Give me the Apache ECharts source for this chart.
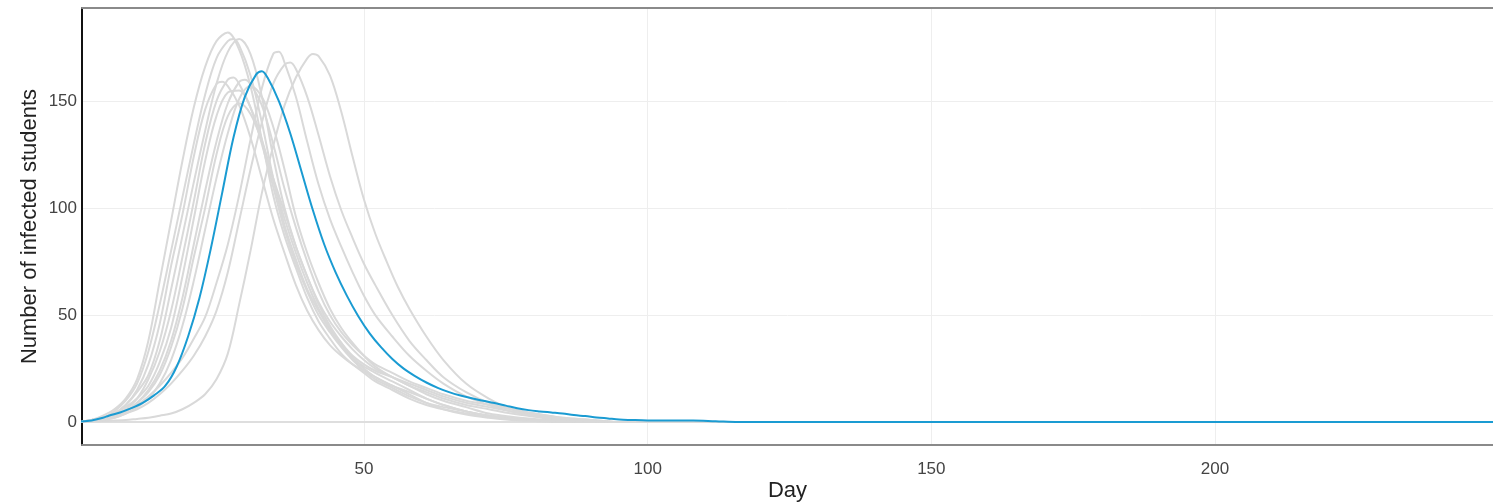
<!DOCTYPE html>
<html><head><meta charset="utf-8">
<script src="https://cdn.jsdelivr.net/npm/echarts@6.0.0/dist/echarts.min.js"></script>
<style>html,body{margin:0;padding:0;background:#fff}#c{width:1493px;height:503px}</style>
</head><body><div id="c"></div>
<script>
// tick labels
const xTickLabels = [50, 100, 150, 200];
const yTickLabels = [0, 50, 100, 150];

// simulation runs: [day, infected students]
const runA = [[0,0],[2,1],[4,3],[6,6],[8,11],[10,20],[12,38],[14,66],[16,94],[18,122],[20,147],[22,166],[24,178],[26,182],[28,174],[30,157],[32,132],[34,106],[36,87],[38,72],[40,58],[42,47],[44,39],[46,32],[48,27],[50,23],[52,19],[55,15],[58,11],[61,8],[64,6],[68,4],[72,2.5],[76,1.5],[80,1],[85,0.5],[90,0],[249,0]];
const runB = [[0,0],[2,0.5],[4,2],[6,5],[8,10],[10,18],[12,33],[14,55],[16,80],[18,105],[20,130],[22,153],[24,170],[26,178],[27,179],[28,176],[30,162],[32,140],[34,114],[36,92],[38,76],[40,62],[42,52],[44,43],[46,36],[48,30],[50,26],[52,23],[55,19],[58,15],[61,11],[64,8],[68,5],[72,3],[76,2],[80,1],[85,0.5],[90,0],[249,0]];
const runC = [[0,0],[2,1],[4,2],[6,4],[8,8],[10,14],[12,22],[14,38],[16,62],[18,87],[20,112],[22,136],[24,158],[26,173],[28,179],[30,172],[32,152],[34,124],[36,100],[38,82],[40,68],[42,56],[44,47],[46,40],[48,34],[50,29],[52,25],[55,21],[58,17],[61,14],[64,11],[68,8],[72,6],[76,4],[80,2.5],[85,1],[90,0.5],[95,0],[249,0]];
const runD = [[0,0],[2,1],[4,2],[6,3],[8,5],[10,8],[12,12],[14,17],[16,23],[18,30],[20,39],[22,49],[24,65],[26,83],[28,106],[30,132],[32,156],[34,172],[35,173],[36,168],[38,152],[40,131],[42,111],[44,95],[46,82],[48,70],[50,59],[52,50],[55,40],[58,31],[61,24],[64,18],[68,12],[72,8],[76,5],[80,3],[85,1.5],[90,0.5],[95,0],[249,0]];
const runE = [[0,0],[2,0.5],[4,1],[6,2],[8,4],[10,6],[12,9],[14,13],[16,18],[18,24],[20,31],[22,40],[24,52],[26,70],[28,94],[30,118],[32,140],[34,158],[36,167],[37,168],[38,165],[40,152],[42,134],[44,115],[46,99],[48,86],[50,74],[52,64],[55,50],[58,38],[61,29],[64,21],[68,14],[72,9],[76,6],[80,4],[85,2],[90,1],[95,0],[249,0]];
const runF = [[0,0],[4,0.5],[8,1],[10,1.5],[12,2],[14,3],[16,4],[18,6],[20,9],[22,13],[24,20],[26,32],[28,55],[30,80],[32,107],[34,129],[36,148],[38,161],[40,170],[41,172],[42,171],[44,162],[46,145],[48,124],[50,104],[52,88],[54,75],[56,63],[58,53],[61,40],[64,29],[68,18],[72,11],[76,6],[80,3.5],[85,1.5],[90,0.5],[95,0],[249,0]];
const runG = [[0,0],[2,1],[4,2],[6,4],[8,8],[10,15],[12,27],[14,46],[16,73],[18,97],[20,124],[22,146],[24,158],[25,159],[26,157],[28,148],[30,133],[32,114],[34,95],[36,79],[38,64],[40,52],[42,43],[44,36],[46,31],[48,27],[50,24],[52,21],[55,17],[58,13],[61,9],[64,6],[68,3.5],[72,2],[76,1],[80,0.5],[85,0],[249,0]];
const runH = [[0,0],[2,0.5],[4,1.5],[6,3],[8,6],[10,11],[12,20],[14,33],[16,52],[18,77],[20,103],[22,130],[24,150],[26,160],[27,161],[28,158],[30,147],[32,130],[34,110],[36,90],[38,74],[40,61],[42,50],[44,42],[46,35],[48,29],[50,24],[52,20],[55,16],[58,12],[61,9],[64,7],[68,5],[72,3],[76,2],[80,1],[85,0.5],[90,0],[249,0]];
const runI = [[0,0],[2,0.5],[4,1.5],[6,3],[8,5],[10,9],[12,15],[14,24],[16,38],[18,58],[20,83],[22,108],[24,131],[26,149],[28,159],[29,160],[30,158],[32,148],[34,130],[36,109],[38,91],[40,75],[42,61],[44,50],[46,42],[48,36],[50,31],[52,27],[55,23],[58,19],[61,16],[64,13],[68,10],[72,8],[76,6],[80,4],[85,2],[90,1],[95,0],[249,0]];
const runJ = [[0,0],[2,1],[4,2],[6,3],[8,5],[10,9],[12,14],[14,22],[16,35],[18,53],[20,77],[22,100],[24,125],[26,143],[28,149],[30,144],[32,131],[34,114],[36,98],[38,82],[40,68],[42,55],[44,45],[46,37],[48,30],[50,25],[52,21],[55,17],[58,14],[61,11],[64,8],[68,5],[72,3],[76,1.5],[80,1],[85,0],[249,0]];
const runK = [[0,0],[2,0.5],[4,1],[6,2],[8,4],[10,7],[12,11],[14,18],[16,29],[18,45],[20,66],[22,90],[24,114],[26,135],[28,151],[30,157],[32,152],[34,138],[36,118],[38,96],[40,79],[42,65],[44,53],[46,44],[48,37],[50,31],[52,26],[55,21],[58,17],[61,13],[64,10],[68,7],[72,4],[76,2.5],[80,1.5],[85,0.5],[90,0],[249,0]];
const runL = [[0,0],[2,1],[4,2],[6,4],[8,7],[10,11],[12,17],[14,28],[16,44],[18,68],[20,95],[22,122],[24,143],[26,154],[28,155],[30,147],[32,132],[34,113],[36,95],[38,79],[40,65],[42,53],[44,44],[46,37],[48,31],[50,27],[52,24],[55,21],[58,18],[61,15],[64,12],[68,9],[72,7],[76,5],[80,3],[85,1.5],[90,0.5],[95,0],[249,0]];

// highlighted (mean) run
const meanRun = [[0,0.3],[2,0.8],[4,2],[5,3],[7,4.5],[9,6.5],[11,9],[13,12.5],[15,17],[17,26],[19,40],[21,58],[23,81],[25,107],[27,133],[29,152],[31,162.5],[32,164],[33,161],[35,150],[37,135],[39,117],[41,99],[43,83],[45,70],[47,59],[49,49.5],[51,41.5],[53,35],[55,29.5],[57,25],[59,21.5],[61,18.5],[63,16],[65,14],[67,12.4],[69,11.1],[71,10],[73,8.9],[75,7.7],[77,6.5],[79,5.6],[81,5],[83,4.5],[85,4],[87,3.3],[89,2.8],[91,2.2],[93,1.7],[95,1.2],[97,1],[100,0.8],[108,0.8],[112,0.4],[116,0],[249,0]];

const greyRuns = [runA, runB, runC, runD, runE, runF, runG, runH, runI, runJ, runK, runL];

const font = '"Liberation Sans", Arial, sans-serif';
const chart = echarts.init(document.getElementById('c'), null, {renderer: 'canvas'});

const series = greyRuns.map(d => ({
  type: 'line', data: d, showSymbol: false, smooth: 0.35, silent: true,
  lineStyle: {color: '#d9d9d9', width: 2}, z: 2
}));
series[0].markLine = {
  silent: true, symbol: 'none', label: {show: false}, animation: false, z: 1,
  lineStyle: {color: '#dedede', width: 2, type: 'solid'},
  data: [{yAxis: 0}]
};
series.push({
  type: 'line', data: meanRun, showSymbol: false, smooth: 0.35, silent: true,
  lineStyle: {color: '#1a9bd2', width: 2}, z: 10
});

chart.setOption({
  animation: false,
  grid: {left: 82, right: 0, top: 8, bottom: 58, containLabel: false, outerBoundsMode: 'none'},
  xAxis: [{
    type: 'value', min: 0.3, max: 249, splitNumber: 5,
    name: 'Day', nameLocation: 'middle', nameGap: 35, nameMoveOverlap: false,
    nameTextStyle: {fontSize: 22, color: '#222', fontFamily: font},
    axisLine: {show: true, onZero: false, lineStyle: {color: '#8a8a8a', width: 2}},
    axisTick: {show: false},
    axisLabel: {margin: 16, fontSize: 17, color: '#444', fontFamily: font,
      showMinLabel: false, showMaxLabel: false,
      formatter: v => xTickLabels.includes(v) ? String(v) : ''},
    splitLine: {show: true, showMinLine: false, showMaxLine: false, lineStyle: {color: '#eeeeee', width: 1}}
  }, {
    type: 'value', position: 'top', min: 0.3, max: 249,
    axisLine: {show: true, onZero: false, lineStyle: {color: '#8a8a8a', width: 2}},
    axisTick: {show: false}, axisLabel: {show: false}, splitLine: {show: false}
  }],
  yAxis: {
    type: 'value', min: -10.7, max: 193.5, splitNumber: 4,
    name: 'Number of infected students', nameLocation: 'middle', nameGap: 41, nameMoveOverlap: false,
    nameTextStyle: {fontSize: 22, color: '#222', fontFamily: font},
    axisLine: {show: true, onZero: false, lineStyle: {color: '#111', width: 2}},
    axisTick: {show: false},
    axisLabel: {margin: 5, fontSize: 17, color: '#444', fontFamily: font,
      showMinLabel: false, showMaxLabel: false,
      formatter: v => yTickLabels.includes(v) ? String(v) : ''},
    splitLine: {show: true, showMinLine: false, showMaxLine: false, lineStyle: {color: '#eeeeee', width: 1}}
  },
  series: series
});
</script>
</body></html>
